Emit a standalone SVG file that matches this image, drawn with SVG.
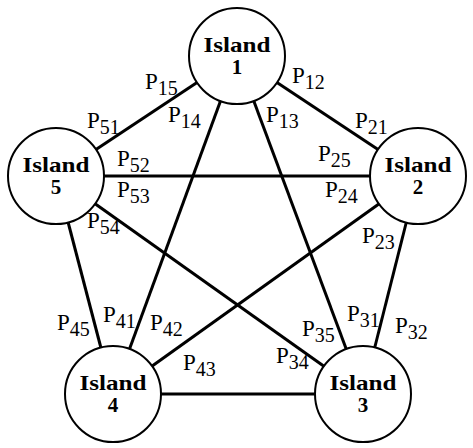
<svg xmlns="http://www.w3.org/2000/svg" width="473" height="448" viewBox="0 0 473 448">
<style>
.edge{stroke:#000;stroke-width:3;fill:none}
.node circle{fill:#fff;stroke:#000;stroke-width:2}
.nt{font-family:"Liberation Serif",serif;font-weight:bold;font-size:21px;text-anchor:middle}
.lbl{font-family:"Liberation Serif",serif;font-size:23px}
.sub{font-size:20px}
</style>
<rect width="473" height="448" fill="#fff"/>
<g id="connectors">
<line class="edge" x1="237" y1="56" x2="418" y2="176"/>
<line class="edge" x1="237" y1="56" x2="363" y2="394"/>
<line class="edge" x1="237" y1="56" x2="113" y2="394"/>
<line class="edge" x1="237" y1="56" x2="56" y2="176"/>
<line class="edge" x1="418" y1="176" x2="363" y2="394"/>
<line class="edge" x1="418" y1="176" x2="113" y2="394"/>
<line class="edge" x1="418" y1="176" x2="56" y2="176"/>
<line class="edge" x1="363" y1="394" x2="113" y2="394"/>
<line class="edge" x1="363" y1="394" x2="56" y2="176"/>
<line class="edge" x1="113" y1="394" x2="56" y2="176"/>
</g>
<g id="island1" class="node"><circle cx="237" cy="56" r="48"/><text class="nt" x="237" y="52" textLength="67" lengthAdjust="spacingAndGlyphs">Island</text><text class="nt" x="237" y="74">1</text></g>
<g id="island2" class="node"><circle cx="418" cy="176" r="48"/><text class="nt" x="418" y="172" textLength="67" lengthAdjust="spacingAndGlyphs">Island</text><text class="nt" x="418" y="194">2</text></g>
<g id="island3" class="node"><circle cx="363" cy="394" r="48"/><text class="nt" x="363" y="390" textLength="67" lengthAdjust="spacingAndGlyphs">Island</text><text class="nt" x="363" y="412">3</text></g>
<g id="island4" class="node"><circle cx="113" cy="394" r="48"/><text class="nt" x="113" y="390" textLength="67" lengthAdjust="spacingAndGlyphs">Island</text><text class="nt" x="113" y="412">4</text></g>
<g id="island5" class="node"><circle cx="56" cy="176" r="48"/><text class="nt" x="56" y="172" textLength="67" lengthAdjust="spacingAndGlyphs">Island</text><text class="nt" x="56" y="194">5</text></g>
<g id="labels" class="lbl">
<text x="145" y="89">P<tspan class="sub" dy="6">15</tspan></text>
<text x="292" y="83">P<tspan class="sub" dy="6">12</tspan></text>
<text x="87" y="128">P<tspan class="sub" dy="6">51</tspan></text>
<text x="168" y="122">P<tspan class="sub" dy="6">14</tspan></text>
<text x="266" y="122">P<tspan class="sub" dy="6">13</tspan></text>
<text x="355" y="128">P<tspan class="sub" dy="6">21</tspan></text>
<text x="117" y="166">P<tspan class="sub" dy="6">52</tspan></text>
<text x="318" y="161">P<tspan class="sub" dy="6">25</tspan></text>
<text x="117" y="197">P<tspan class="sub" dy="6">53</tspan></text>
<text x="325" y="197">P<tspan class="sub" dy="6">24</tspan></text>
<text x="87" y="228">P<tspan class="sub" dy="6">54</tspan></text>
<text x="362" y="243">P<tspan class="sub" dy="6">23</tspan></text>
<text x="57" y="330">P<tspan class="sub" dy="6">45</tspan></text>
<text x="103" y="322">P<tspan class="sub" dy="6">41</tspan></text>
<text x="150" y="330">P<tspan class="sub" dy="6">42</tspan></text>
<text x="302" y="336">P<tspan class="sub" dy="6">35</tspan></text>
<text x="347" y="321">P<tspan class="sub" dy="6">31</tspan></text>
<text x="395" y="333">P<tspan class="sub" dy="6">32</tspan></text>
<text x="183" y="370">P<tspan class="sub" dy="6">43</tspan></text>
<text x="276" y="363">P<tspan class="sub" dy="6">34</tspan></text>
</g>
</svg>
